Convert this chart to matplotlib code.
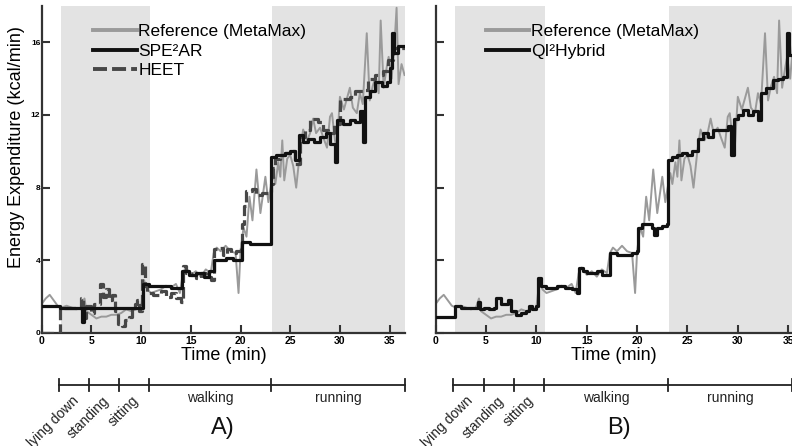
import numpy as np
import matplotlib
matplotlib.use("Agg")
import matplotlib.pyplot as plt
from matplotlib.transforms import blended_transform_factory

plt.rcParams['font.family'] = ['Liberation Sans', 'DejaVu Sans']

# reference (MetaMax) measurement, time in min / kcal per min
ref_t = [0.0, 0.4, 0.8, 1.2, 1.6, 2.0, 2.5, 3.0, 3.5, 4.0, 4.3, 4.5, 5.0, 5.5, 6.0,
         6.5, 7.0, 7.5, 8.0, 8.5, 9.0, 9.5, 10.0, 10.3, 10.6, 11.0, 11.5, 12.0, 12.5,
         13.0, 13.5, 13.9, 14.2, 14.5, 15.0, 15.5, 16.0, 16.5, 17.0, 17.3, 17.6, 18.0,
         18.5, 19.0, 19.5, 19.8, 20.0, 20.3, 20.6, 20.9, 21.2, 21.6, 22.0, 22.3, 22.5,
         22.8, 23.0, 23.3, 23.5, 23.8, 24.0, 24.2, 24.4, 24.7, 25.0, 25.3, 25.6, 26.0,
         26.3, 26.7, 27.0, 27.3, 27.6, 28.0, 28.3, 28.7, 29.0, 29.2, 29.5, 29.7, 30.0,
         30.4, 30.7, 31.0, 31.3, 31.7, 32.0, 32.3, 32.7, 33.0, 33.3, 33.6, 33.9, 34.1,
         34.4, 34.7, 34.9, 35.2, 35.5, 35.7, 35.9, 36.2, 36.5]
ref_v = [1.6, 1.9, 2.1, 1.8, 1.5, 1.4, 1.5, 1.4, 1.3, 1.4, 1.9, 1.2, 1.0, 0.8, 0.9,
         0.9, 1.0, 1.0, 1.1, 1.3, 1.2, 1.3, 1.4, 2.9, 2.4, 2.2, 2.3, 2.4, 2.6,
         2.5, 2.7, 2.2, 3.3, 3.6, 3.2, 3.4, 3.1, 3.5, 3.3, 4.4, 4.7, 4.5,
         4.8, 4.5, 4.4, 2.2, 4.5, 5.8, 5.3, 7.5, 6.2, 9.0, 6.6, 7.8, 8.6,
         7.2, 7.9, 8.8, 8.2, 9.4, 8.6, 10.6, 8.4, 9.6, 9.8, 9.2, 8.0, 10.1,
         11.2, 10.6, 11.0, 11.8, 11.0, 11.3, 10.8, 10.2, 11.9, 12.1, 10.6, 10.2, 13.0,
         12.3, 12.9, 13.5, 12.4, 12.1, 13.2, 12.6, 16.5, 12.8, 13.6, 14.1, 13.2, 17.2,
         13.5, 14.6, 15.2, 14.0, 16.0, 17.9, 13.7, 14.8, 14.2]

# SPE2AR estimate
spe_t = [0.0, 1.8, 4.1, 4.3, 10.2, 10.8, 12.0, 13.0, 14.1, 14.8, 15.5, 16.3, 16.8,
         17.3, 18.5, 19.2, 20.1, 21.0, 22.0, 23.1, 23.6, 24.5, 25.0, 25.5, 25.9, 26.3,
         26.8, 27.4, 28.0, 28.6, 29.0, 29.5, 29.7, 30.3, 31.0, 31.5, 32.0, 32.3, 32.5,
         33.0, 33.5, 34.2, 34.7, 35.0, 35.2, 35.4, 35.8, 36.6]
spe_v = [1.5, 1.4, 0.6, 1.4, 2.7, 2.6, 2.6, 2.5, 3.4, 3.2, 3.3, 3.1, 3.4,
         4.0, 4.1, 4.0, 5.0, 4.9, 4.9, 9.7, 9.8, 9.9, 10.0, 9.5, 10.9, 10.5,
         10.7, 10.5, 10.8, 11.0, 10.4, 9.4, 11.7, 11.5, 11.7, 11.6, 12.2, 10.5, 13.0,
         13.3, 13.8, 13.6, 13.8, 14.6, 16.5, 15.4, 15.8, 15.8]

# HEET estimate
heet_t = [0.0, 1.8, 4.0, 4.2, 4.5, 5.0, 5.3, 5.9, 6.2, 6.5, 6.8, 7.1, 7.4, 7.7, 8.1,
          8.4, 8.8, 9.1, 9.4, 9.6, 9.8, 10.1, 10.4, 10.6, 11.2, 12.0, 12.5, 13.0, 13.5,
          14.0, 14.2, 14.5, 15.0, 15.5, 16.0, 16.5, 17.0, 17.3, 17.7, 18.2, 18.6, 19.0,
          19.5, 20.0, 20.1, 20.3, 20.6, 21.2, 21.6, 22.2, 22.7, 23.1, 23.3, 23.5, 24.0,
          24.5, 25.0, 25.5, 26.0, 26.5, 27.0, 27.8, 28.3, 28.8, 29.4, 30.0, 31.0, 31.5,
          32.3, 32.8, 33.5, 34.3, 34.8, 35.3, 36.6]
heet_v = [0.0, 1.4, 1.9, 0.8, 1.5, 1.1, 1.6, 2.7, 2.0, 2.4, 1.8, 2.1, 1.2, 0.5, 0.4,
          0.7, 0.9, 1.3, 1.6, 1.8, 1.2, 3.8, 2.6, 2.2, 2.1, 2.3, 2.0, 2.2, 1.9,
          1.7, 3.7, 3.3, 3.2, 3.0, 3.3, 3.1, 2.9, 4.6, 4.7, 4.3, 4.6, 4.4,
          4.5, 4.7, 6.0, 7.0, 7.8, 7.9, 7.6, 7.7, 7.7, 8.2, 9.1, 9.6, 9.8,
          9.9, 10.0, 9.3, 10.8, 11.2, 11.8, 11.6, 11.2, 11.0, 11.5, 12.9, 13.0, 13.3,
          13.4, 14.0, 14.2, 14.4, 15.0, 15.7, 15.8]

# QI2Hybrid estimate
qi_t = [0.0, 1.9, 2.5, 4.2, 4.4, 4.8, 5.3, 5.8, 6.0, 6.5, 7.0, 7.2, 7.5, 8.0, 8.5,
        9.0, 9.3, 9.6, 10.0, 10.2, 10.5, 11.0, 12.0, 12.8, 13.5, 14.0, 14.2, 14.6,
        15.0, 16.0, 16.5, 17.1, 17.3, 18.0, 19.0, 19.5, 20.0, 20.1, 20.5, 21.0, 21.5,
        21.7, 22.0, 22.5, 23.0, 23.1, 23.5, 24.0, 24.5, 25.0, 25.5, 26.0, 26.5, 27.0,
        27.5, 28.5, 29.0, 29.3, 29.6, 30.0, 30.5, 31.0, 31.5, 32.0, 32.3, 32.8, 33.5,
        34.0, 34.5, 34.9, 35.1, 35.5]
qi_v = [0.9, 1.5, 1.4, 1.7, 1.3, 1.4, 1.3, 1.4, 1.9, 1.6, 1.6, 1.8, 1.2, 1.0, 1.1,
        1.2, 1.5, 1.3, 1.5, 3.0, 2.6, 2.5, 2.6, 2.5, 2.4, 2.2, 3.6, 3.4,
        3.3, 3.4, 3.2, 3.2, 4.4, 4.3, 4.3, 4.4, 4.5, 5.8, 6.0, 6.0, 5.8,
        5.4, 5.8, 5.9, 6.0, 9.5, 9.7, 9.8, 9.9, 9.8, 10.0, 10.7, 11.0, 10.8,
        11.2, 11.2, 11.4, 9.8, 11.8, 12.0, 12.3, 12.0, 12.2, 11.7, 13.2, 13.5, 13.9,
        14.0, 14.1, 16.5, 15.3, 15.8]

# activity phases
phase_edges = [1.7, 4.8, 7.8, 10.8, 23.1]
phase_names = ['lying down', 'standing', 'sitting', 'walking', 'running']
shade_spans = [(1.9, 10.9), (23.15, 40)]

ref_color = '#9a9a9a'
ink = '#222222'

fig = plt.figure(figsize=(7.92, 4.46), dpi=100)
axA = fig.add_axes([0.0527, 0.2534, 0.4587, 0.7332])
axB = fig.add_axes([0.5501, 0.2534, 0.4499, 0.7332])


def setup(ax, xmax, letter, ylabels):
    ax.set_xlim(0, xmax)
    ax.set_ylim(0, 18)
    for a, b in shade_spans:
        ax.axvspan(a, min(b, xmax), color='#e3e3e3', lw=0, zorder=0)
    for s in ['top', 'right']:
        ax.spines[s].set_visible(False)
    for s in ['left', 'bottom']:
        ax.spines[s].set_linewidth(1.6)
        ax.spines[s].set_color('#333333')
    ax.set_xticks(range(0, 40, 5))
    ax.set_yticks([0, 4, 8, 12, 16])
    ax.tick_params(direction='in', length=6, width=1.5, color='#333333', pad=2)
    ax.tick_params(axis='x', labelsize=7.5)
    ax.tick_params(axis='y', labelsize=6, pad=1)
    for lab in ax.get_xticklabels() + ax.get_yticklabels():
        lab.set_fontweight('bold')
    if not ylabels:
        ax.set_yticklabels([])
    ax.set_xlabel('Time (min)', fontsize=13, labelpad=1)

    # activity timeline under the axis
    tr = blended_transform_factory(ax.transData, ax.transAxes)
    yl = -0.16
    ax.plot([phase_edges[0], xmax], [yl, yl], color=ink, lw=1.3,
            transform=tr, clip_on=False)
    for e in phase_edges + [xmax]:
        ax.plot([e, e], [yl - 0.018, yl + 0.018], color=ink, lw=1.3,
                transform=tr, clip_on=False)
    ends = phase_edges + [xmax]
    for i, name in enumerate(phase_names):
        mid = (ends[i] + ends[i + 1]) / 2
        if i < 3:
            ax.text(mid - 0.25, yl - 0.025, name, rotation=45, ha='right', va='top',
                    rotation_mode='anchor', fontsize=10, transform=tr, color=ink)
        else:
            ax.text(mid, yl - 0.04, name, ha='center', va='center',
                    fontsize=10, transform=tr, color=ink)
    ax.text(18.2, -0.29, letter, ha='center', va='center', fontsize=17,
            transform=tr, color='#111111')


setup(axA, 36.55, 'A)', True)
setup(axB, 35.38, 'B)', False)

axA.set_ylabel('Energy Expenditure (kcal/min)', fontsize=13)
axA.yaxis.set_label_coords(-0.047, 0.57)

axA.plot(ref_t, ref_v, color=ref_color, lw=1.4, label='Reference (MetaMax)', zorder=2)
axA.plot(spe_t, spe_v, color='#111111', lw=2.3, drawstyle='steps-post',
         label='SPE²AR', zorder=4)
axA.plot(heet_t, heet_v, color='#474747', lw=2.3, dashes=(3.6, 1.3),
         drawstyle='steps-post', label='HEET', zorder=3)

axB.plot(ref_t, ref_v, color=ref_color, lw=1.4, label='Reference (MetaMax)', zorder=2)
axB.plot(qi_t, qi_v, color='#111111', lw=2.3, drawstyle='steps-post',
         label='QI²Hybrid', zorder=4)

for ax, x0 in [(axA, 0.142), (axB, 0.14)]:
    h, l = ax.get_legend_handles_labels()
    leg = ax.legend(h, l, loc='upper left', bbox_to_anchor=(x0, 0.945),
                    frameon=False, fontsize=12.5, handlelength=2.5,
                    handletextpad=0.1, labelspacing=0.25, borderpad=0,
                    borderaxespad=0)
    for line in leg.get_lines():
        line.set_linewidth(2.8)

fig.savefig('out.png', dpi=100)
